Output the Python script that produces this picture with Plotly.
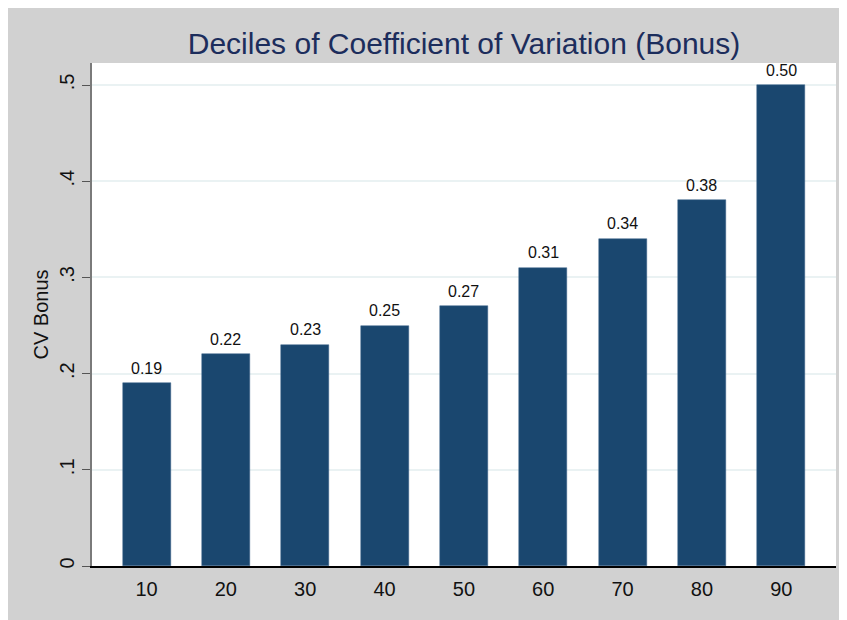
import plotly.graph_objects as go

deciles = [10, 20, 30, 40, 50, 60, 70, 80, 90]
cv_bonus = [0.19, 0.22, 0.23, 0.25, 0.27, 0.31, 0.34, 0.38, 0.50]
y_tickvals = [0, 0.1, 0.2, 0.3, 0.4, 0.5]
y_ticktext = ["0", ".1", ".2", ".3", ".4", ".5"]
x_ticktext = [str(d) for d in deciles]

W, H = 900, 700
ML, MT = 84, 55
MR, MB = W - 828, H - 558

FONT = "Liberation Sans, Arial, sans-serif"
GRAY = "#d1d1d1"

fig = go.Figure()
fig.add_trace(go.Bar(
    x=deciles, y=cv_bonus, width=6.05,
    marker=dict(color="#1a476f", line=dict(width=0.5, color="#3d6388")),
    hoverinfo="x+y",
))

for d, v in zip(deciles, cv_bonus):
    fig.add_annotation(x=d, y=v, text=f"{v:.2f}", showarrow=False,
                       yanchor="middle", yshift=15,
                       font=dict(family=FONT, size=16, color="#111111"))

fig.update_layout(
    width=W, height=H,
    margin=dict(l=ML, r=MR, t=MT, b=MB, pad=0),
    paper_bgcolor=GRAY, plot_bgcolor="white",
    showlegend=False, bargap=0,
    font=dict(family=FONT, color="#111111"),
    title=dict(text="Deciles of Coefficient of Variation (Bonus)",
               x=456 / W, xanchor="center", y=1 - 35 / H, yanchor="middle",
               font=dict(family=FONT, size=30, color="#1c2d5c")),
    xaxis=dict(
        range=[3.13, 96.9], tickvals=deciles, ticktext=x_ticktext,
        showgrid=False, zeroline=False, showline=True, linecolor="black",
        linewidth=1.5, ticks="", tickfont=dict(size=20, color="#111111"),
        ticklabelstandoff=4,
    ),
    yaxis=dict(
        range=[0, 0.5229], tickvals=y_tickvals, ticktext=y_ticktext,
        showgrid=True, gridcolor="#eaf2f3", gridwidth=1.5, zeroline=False,
        showline=True, linecolor="#7a7a7a", linewidth=1.5,
        ticks="outside", ticklen=8, tickcolor="#555555", tickwidth=1,
        tickangle=-90, tickfont=dict(size=20, color="#111111"),
        ticklabelstandoff=0,
        title=dict(text="CV Bonus", font=dict(size=20, color="#111111"), standoff=2),
    ),
)

fig.write_html("out.html")
